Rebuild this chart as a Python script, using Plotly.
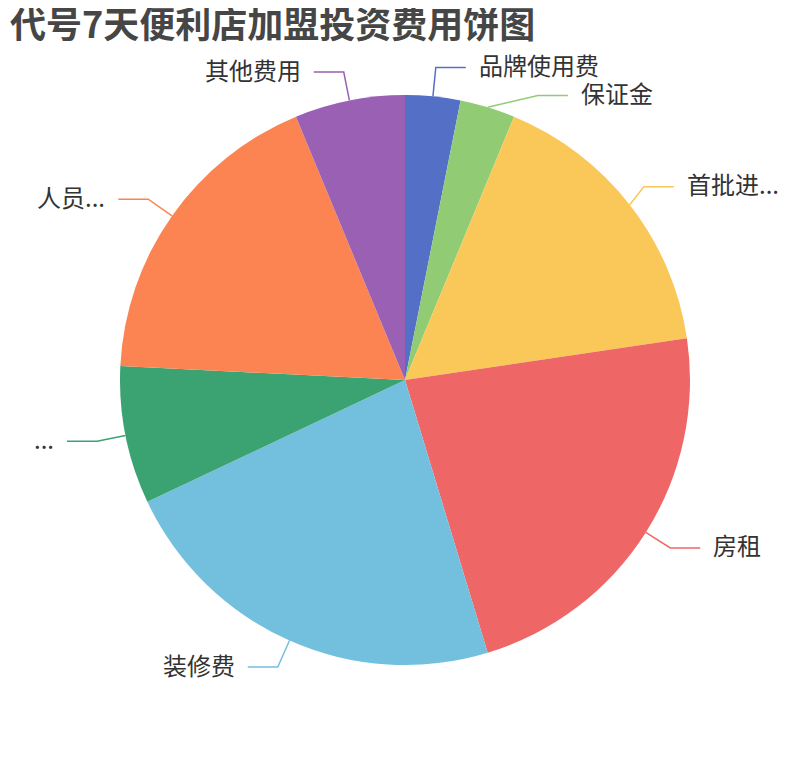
import math
import plotly.graph_objects as go

# 加盟投资费用构成（单位：万元）
names = ["品牌使用费", "保证金", "首批进货费", "房租", "装修费", "设备购置费", "人员工资", "其他费用"]
shown = ["品牌使用费", "保证金", "首批进...", "房租", "装修费", "...", "人员...", "其他费用"]
values = [2, 2, 10.5, 14.5, 14.5, 5, 11.5, 4]
colors = ["#5470c6", "#91cc75", "#fac858", "#ee6666", "#73c0de", "#3ba272", "#fc8452", "#9a60b4"]

# the page body has an 8px margin, so the figure is drawn 8px in from the window corner
OFF = 8
W, H = 810 - OFF, 760 - OFF
CX, CY, R = 405 - OFF, 380 - OFF, 285
LEN1, LEN2, GAP = 29, 30, 11
FS = 24
MIN_DY = 28
RIGHT_LIMIT = 772 - OFF


def px(x):
    return x / W


def py(y):
    return 1 - y / H


def text_width(s):
    w = 0
    for ch in s:
        w += FS * 0.21 if ch == "." else FS
    return w


fig = go.Figure(go.Pie(
    labels=names,
    values=values,
    sort=False,
    direction="clockwise",
    rotation=0,
    marker=dict(colors=colors, line=dict(width=0)),
    textinfo="none",
    hoverinfo="label+value+percent",
    domain=dict(x=[px(CX - R), px(CX + R)], y=[py(CY + R), py(CY - R)]),
))

# label layout, roughly like echarts outer labels
total = sum(values)
items = []
acc = 0
for i, v in enumerate(values):
    mid = (acc + v / 2) / total * 2 * math.pi
    acc += v
    s, c = math.sin(mid), math.cos(mid)
    items.append(dict(
        i=i,
        side=1 if s >= 0 else -1,
        edge=(CX + R * s, CY - R * c),
        kx=CX + (R + LEN1) * s,
        ky=CY - (R + LEN1) * c,
        moved=False,
    ))

for side in (1, -1):
    group = sorted([it for it in items if it["side"] == side], key=lambda it: it["ky"])
    for a, b in zip(group, group[1:]):
        if b["ky"] - a["ky"] < MIN_DY:
            b["ky"] = a["ky"] + MIN_DY
            b["moved"] = True
    for it in group:
        if it["moved"]:
            dy = it["ky"] - CY
            it["kx"] = CX + side * math.sqrt(max((R + LEN1) ** 2 - dy ** 2, 0))

shapes = []
annotations = []
for it in items:
    side = it["side"]
    kx, ky = it["kx"], it["ky"]
    label = shown[it["i"]]
    if side == 1:
        over = kx + LEN2 + GAP + text_width(label) - RIGHT_LIMIT
        if over > 0:
            kx -= over
    ex = kx + side * LEN2
    x0, y0 = it["edge"]
    shapes.append(dict(
        type="path", xref="paper", yref="paper",
        path=f"M {px(x0)},{py(y0)} L {px(kx)},{py(ky)} L {px(ex)},{py(ky)}",
        line=dict(color=colors[it["i"]], width=1.5),
    ))
    annotations.append(dict(
        x=px(ex + side * GAP), y=py(ky), xref="paper", yref="paper",
        yshift=3,
        text=label, showarrow=False,
        xanchor="left" if side == 1 else "right", yanchor="middle",
        font=dict(size=FS, color="#333333", family="Noto Sans CJK SC"),
    ))

fig.update_layout(
    width=W, height=H,
    margin=dict(l=0, r=0, t=0, b=0),
    paper_bgcolor="white",
    showlegend=False,
    shapes=shapes,
    annotations=annotations,
    title=dict(
        text="代号7天便利店加盟投资费用饼图",
        x=px(10 - OFF), xanchor="left", xref="paper",
        y=py(25 - OFF), yanchor="middle", yref="container",
        font=dict(size=36, color="#464646", family="Noto Sans CJK SC", weight="bold"),
    ),
)

fig.write_html("out.html")
